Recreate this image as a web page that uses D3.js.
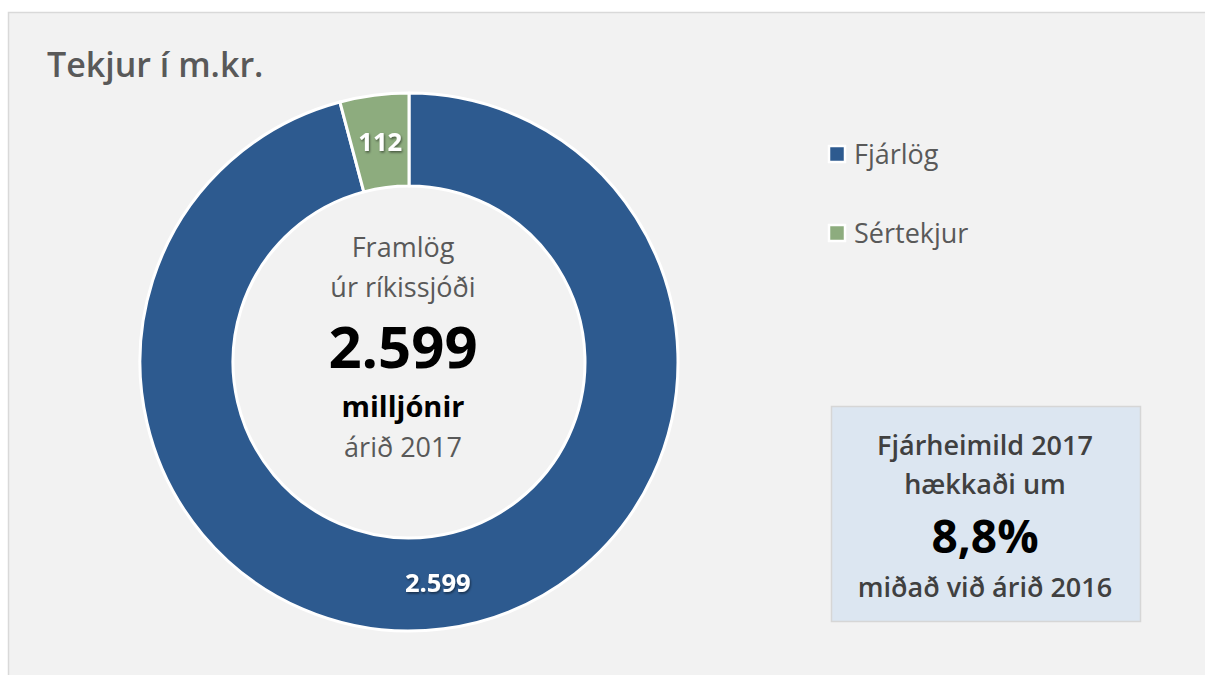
<!DOCTYPE html>
<html><head><meta charset="utf-8">
<script src="https://cdn.jsdelivr.net/npm/d3@7"></script>
<style>
html,body{margin:0;padding:0;background:#fff;}
svg{display:block;}
text{font-family:"Open Sans","Noto Sans",sans-serif;}
</style></head>
<body>
<svg id="chart" width="1205" height="675"></svg>
<script>
const categories = ["Fjárlög", "Sértekjur"];
const values = [2599, 112];
const valueLabels = ["2.599", "112"];
const colors = ["#2d5a8f", "#8dac7e"];
const title = "Tekjur í m.kr.";
const centerLines = ["Framlög", "úr ríkissjóði", "2.599", "milljónir", "árið 2017"];
const boxLines = ["Fjárheimild 2017", "hækkaði um", "8,8%", "miðað við árið 2016"];

const svg = d3.select("#chart");
const defs = svg.append("defs");
const f = defs.append("filter").attr("id","sh").attr("x","-20%").attr("y","-20%").attr("width","140%").attr("height","140%");
f.append("feDropShadow").attr("dx",1).attr("dy",1.5).attr("stdDeviation",1.3).attr("flood-color","#000").attr("flood-opacity",0.5);

// panel
svg.append("rect").attr("x",8.5).attr("y",12.5).attr("width",1205).attr("height",675)
  .attr("fill","#f2f2f2").attr("stroke","#d9d9d9").attr("stroke-width",1.5);

svg.append("text").attr("x",47).attr("y",77).attr("fill","#595959")
  .attr("font-size",34).attr("font-weight",600).text(title);

const cx = 409, cy = 362, rOuter = 269, rInner = 176;
const pie = d3.pie().sort(null).value(d => d);
const arcs = pie(values);
const arc = d3.arc().innerRadius(rInner).outerRadius(rOuter);
const g = svg.append("g").attr("transform", `translate(${cx},${cy})`);
g.selectAll("path.slice").data(arcs).join("path").attr("class","slice")
  .attr("d", arc).attr("fill", (d,i) => colors[i]).attr("stroke","#fff").attr("stroke-width",3).attr("stroke-linejoin","round");
g.selectAll("text.lbl").data(arcs).join("text").attr("class","lbl")
  .attr("transform", d => `translate(${arc.centroid(d)})`)
  .attr("text-anchor","middle").attr("dy","0.36em")
  .attr("fill","#fff").attr("font-size",25.5).attr("font-weight",700)
  .attr("filter","url(#sh)")
  .text((d,i) => valueLabels[i]);

// center text
const ct = [
  {t:centerLines[0], y:257, s:27, w:400, c:"#595959"},
  {t:centerLines[1], y:297, s:27, w:400, c:"#595959"},
  {t:centerLines[2], y:368, s:58, w:700, c:"#000"},
  {t:centerLines[3], y:417, s:29, w:700, c:"#000"},
  {t:centerLines[4], y:457, s:27, w:400, c:"#595959"}
];
svg.selectAll("text.ct").data(ct).join("text").attr("class","ct")
  .attr("x",403).attr("y",d=>d.y).attr("text-anchor","middle")
  .attr("font-size",d=>d.s).attr("font-weight",d=>d.w).attr("fill",d=>d.c).text(d=>d.t);

// legend
const lg = svg.selectAll("g.lg").data(categories).join("g").attr("class","lg")
  .attr("transform",(d,i)=>`translate(829,${146 + i*79})`);
lg.append("rect").attr("x",0).attr("y",0).attr("width",16).attr("height",16)
  .attr("fill",(d,i)=>colors[i]).attr("stroke","#fff").attr("stroke-width",2.5);
lg.append("text").attr("x",25).attr("y",18).attr("font-size",27).attr("fill","#595959").text(d=>d);

// box
svg.append("rect").attr("x",831.5).attr("y",406.5).attr("width",309).attr("height",215)
  .attr("fill","#dce6f1").attr("stroke","#d6d6d6").attr("stroke-width",1.5);
const bt = [
  {t:boxLines[0], y:455, s:27, w:600, c:"#404040"},
  {t:boxLines[1], y:494, s:27, w:600, c:"#404040"},
  {t:boxLines[2], y:553, s:46, w:700, c:"#000"},
  {t:boxLines[3], y:597, s:27, w:600, c:"#404040"}
];
svg.selectAll("text.bt").data(bt).join("text").attr("class","bt")
  .attr("x",985).attr("y",d=>d.y).attr("text-anchor","middle")
  .attr("font-size",d=>d.s).attr("font-weight",d=>d.w).attr("fill",d=>d.c).text(d=>d.t);
</script>
</body></html>
